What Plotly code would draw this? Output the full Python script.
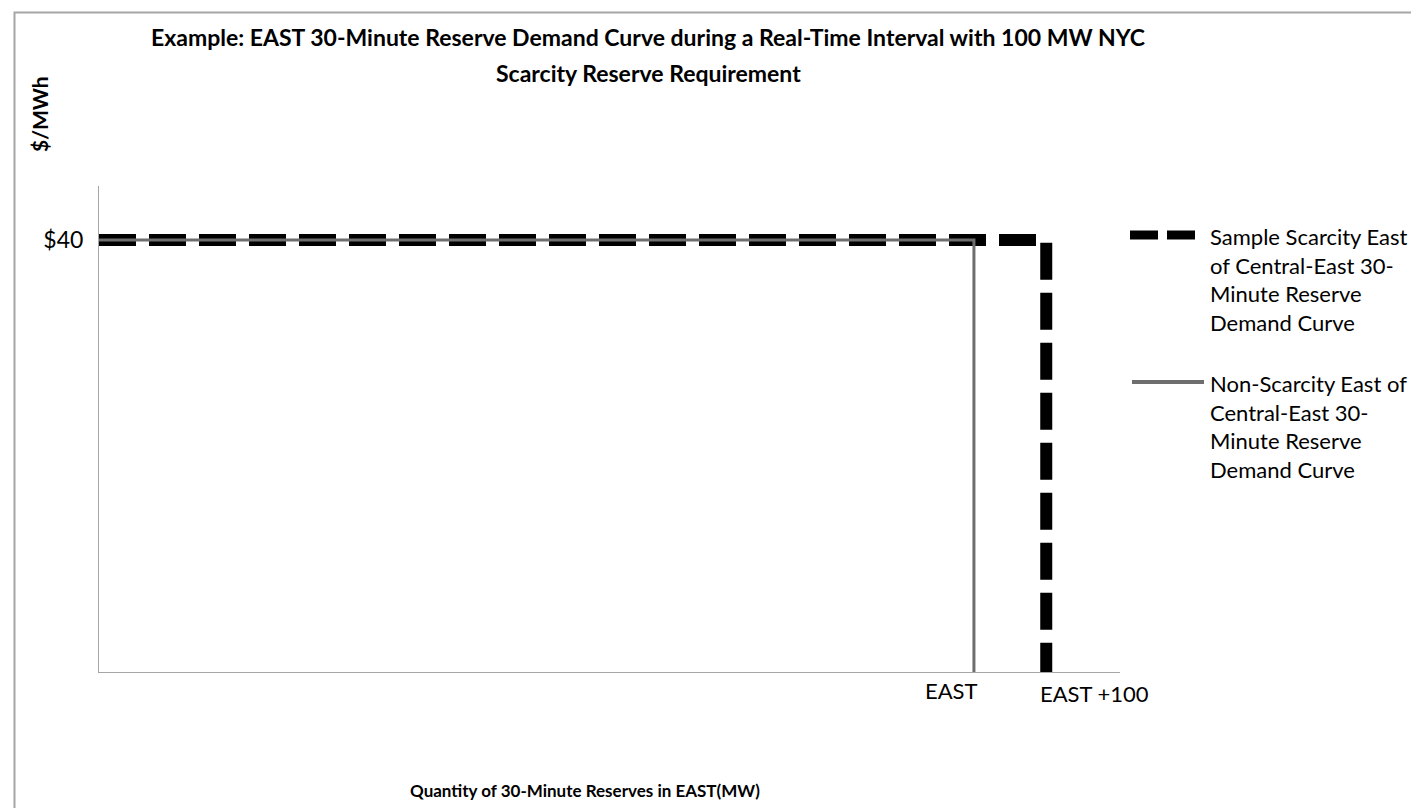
import plotly.graph_objects as go

# ---- data ----
east_base = 1210          # MW position of the EAST requirement on the quantity axis
scarcity_adder = 100      # MW (NYC scarcity reserve requirement)
price_level = 40          # $/MWh

scarcity_qty = [0, east_base + scarcity_adder, east_base + scarcity_adder]
scarcity_price = [price_level, price_level, 0]
nonscarcity_qty = [0, east_base, east_base]
nonscarcity_price = [price_level, price_level, 0]

y_tick_vals = [40]
y_tick_text = ["$40"]
x_label_text = ["EAST", "EAST +100"]
title_lines = [
    "Example: EAST 30-Minute Reserve Demand Curve during a Real-Time Interval with 100 MW NYC",
    "Scarcity Reserve Requirement",
]
legend_names = [
    "Sample Scarcity East<br>of Central-East 30-<br>Minute Reserve<br>Demand Curve",
    "Non-Scarcity East of<br>Central-East 30-<br>Minute Reserve<br>Demand Curve",
]

W, H = 1419, 808
L, R, T, B = 91, 1112, 178, 664
FONT = "Lato"


def px(xpix):
    return (xpix - L) / (R - L)


def py(ypix):
    return (B - ypix) / (B - T)


fig = go.Figure()
fig.add_trace(go.Scatter(
    x=scarcity_qty, y=scarcity_price, mode="lines", name=legend_names[0],
    line=dict(color="#000000", width=12, dash="37px,13px"), showlegend=False,
))
fig.add_trace(go.Scatter(
    x=nonscarcity_qty, y=nonscarcity_price, mode="lines", name=legend_names[1],
    line=dict(color="#6e6e6e", width=3), showlegend=False,
))

txt = dict(family=FONT, color="#000")
annotations = [
    dict(text="<b>" + title_lines[0] + "</b>", xref="paper", yref="paper", x=px(640), y=py(29),
         xanchor="center", yanchor="middle", showarrow=False, font=dict(size=23, **txt)),
    dict(text="<b>" + title_lines[1] + "</b>", xref="paper", yref="paper", x=px(640), y=py(65),
         xanchor="center", yanchor="middle", showarrow=False, font=dict(size=23, **txt)),
    dict(text="<b>$/MWh</b>", xref="paper", yref="paper", x=px(31), y=py(106),
         xanchor="center", yanchor="middle",
         textangle=-90, showarrow=False, font=dict(size=21, **txt)),
    dict(text="<b>Quantity of 30-Minute Reserves in EAST(MW)</b>", xref="paper", yref="paper",
         x=px(577), y=py(782), xanchor="center", yanchor="middle",
         showarrow=False, font=dict(size=17, **txt)),
    dict(text=x_label_text[0], xref="x", yref="paper", x=east_base, y=py(682),
         xanchor="right", yanchor="middle", xshift=6, showarrow=False,
         font=dict(size=22, **txt)),
    dict(text=x_label_text[1], xref="x", yref="paper", x=east_base + scarcity_adder, y=py(685),
         xanchor="left", yanchor="middle", xshift=-8, showarrow=False,
         font=dict(size=22, **txt)),
    dict(text=legend_names[0], xref="paper", yref="paper", x=px(1200), y=py(271),
         xanchor="left", yanchor="middle", align="left", showarrow=False,
         font=dict(size=22, **txt)),
    dict(text=legend_names[1], xref="paper", yref="paper", x=px(1200), y=py(418),
         xanchor="left", yanchor="middle", align="left", showarrow=False,
         font=dict(size=22, **txt)),
]

shapes = [
    # outer chart border
    dict(type="rect", xref="paper", yref="paper", x0=px(6.5), x1=px(1412.5), y0=py(815), y1=py(4.5),
         line=dict(color="#a6a6a6", width=2), fillcolor="rgba(0,0,0,0)", layer="below"),
    # legend symbols
    dict(type="line", xref="paper", yref="paper", x0=px(1122), x1=px(1150), y0=py(227), y1=py(227),
         line=dict(color="#000000", width=9)),
    dict(type="line", xref="paper", yref="paper", x0=px(1159), x1=px(1187), y0=py(227), y1=py(227),
         line=dict(color="#000000", width=9)),
    dict(type="line", xref="paper", yref="paper", x0=px(1124), x1=px(1196), y0=py(374), y1=py(374),
         line=dict(color="#6e6e6e", width=4)),
]

fig.update_layout(
    width=W, height=H,
    margin=dict(l=L, r=W - R, t=T, b=H - B, pad=0),
    paper_bgcolor="white", plot_bgcolor="white",
    showlegend=False,
    xaxis=dict(range=[0, 1412], showline=True, linecolor="#a6a6a6", linewidth=1,
               showgrid=False, zeroline=False, showticklabels=False, ticks=""),
    yaxis=dict(range=[0, 45], showline=True, linecolor="#a6a6a6", linewidth=1,
               showgrid=False, zeroline=False, tickvals=y_tick_vals, ticktext=y_tick_text,
               ticks="", ticklabelstandoff=10, tickfont=dict(size=23, **txt)),
    annotations=annotations,
    shapes=shapes,
)

fig.write_html("out.html")
